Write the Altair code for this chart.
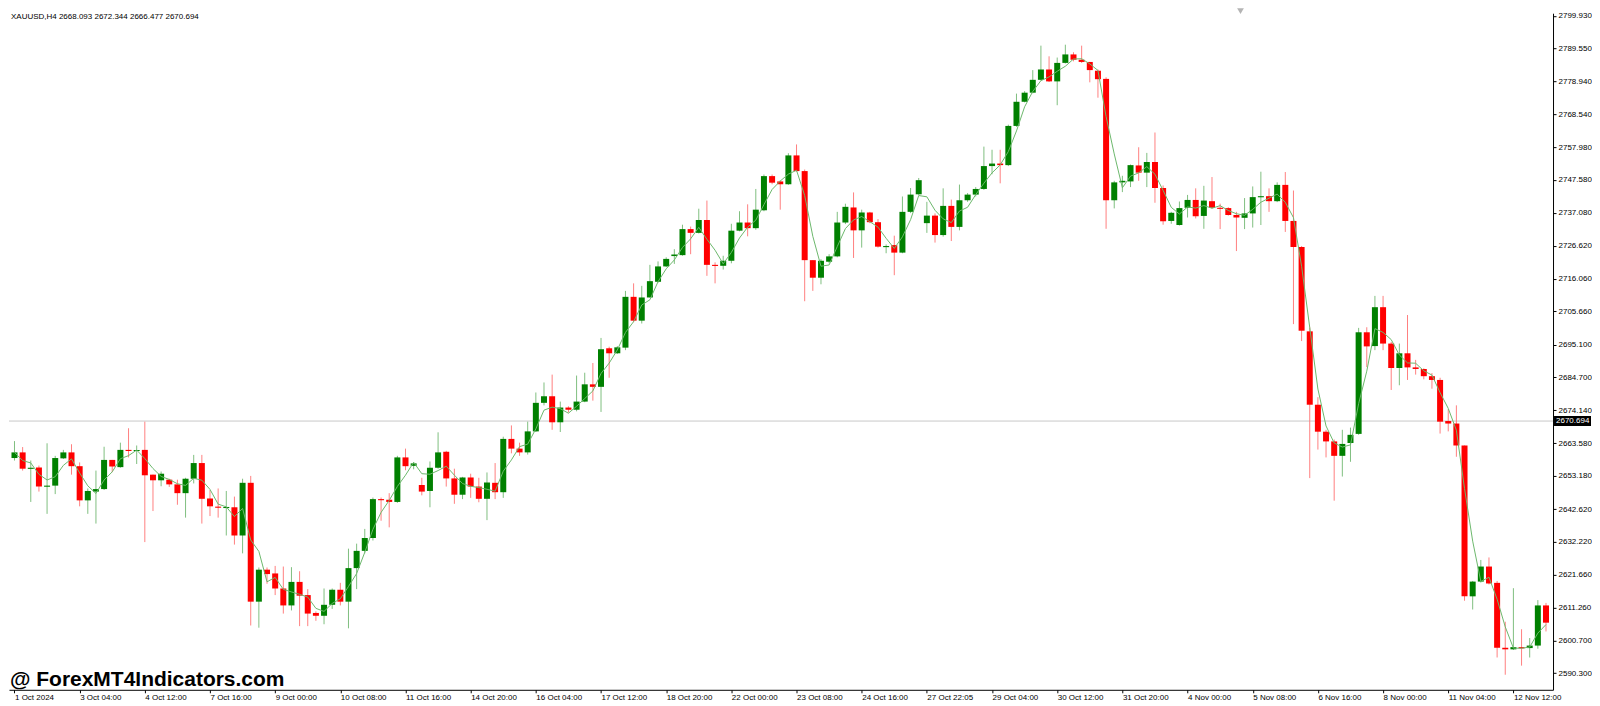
import json
import altair as alt
import pandas as pd

# ---------------- data (XAUUSD H4) ----------------
opens = [
    2658.9, 2660.7, 2655.5, 2655.9, 2650.0, 2650.1, 2658.8, 2660.7, 2656.3, 2645.4,
    2648.2, 2649.0, 2658.3, 2656.0, 2661.5, 2661.3, 2661.5, 2653.6, 2651.8, 2652.0,
    2650.5, 2647.7, 2652.3, 2657.3, 2646.0, 2643.4, 2643.0, 2643.2, 2634.2, 2651.0,
    2613.1, 2623.3, 2622.1, 2617.3, 2611.9, 2619.4, 2615.2, 2609.5, 2608.6, 2612.1,
    2616.9, 2613.1, 2623.8, 2629.3, 2633.4, 2645.8, 2645.6, 2644.9, 2659.1, 2656.4,
    2650.3, 2648.4, 2655.8, 2660.9, 2652.4, 2647.2, 2652.7, 2649.8, 2645.9, 2651.0,
    2648.0, 2665.0, 2661.9, 2660.7, 2667.4, 2676.5, 2678.6, 2670.3, 2675.0, 2674.3,
    2676.9, 2682.4, 2681.6, 2693.9, 2692.3, 2694.1, 2710.3, 2702.7, 2710.1, 2715.1,
    2720.0, 2723.3, 2723.6, 2731.9, 2730.7, 2734.8, 2720.5, 2720.2, 2721.8, 2731.4,
    2734.0, 2732.2, 2737.9, 2748.8, 2747.1, 2746.2, 2755.4, 2750.4, 2722.0, 2716.4,
    2721.5, 2723.2, 2734.0, 2738.8, 2731.5, 2737.2, 2734.1, 2726.2, 2726.8, 2724.4,
    2737.4, 2743.0, 2733.8, 2736.2, 2730.0, 2739.3, 2732.6, 2741.1, 2742.9, 2744.7,
    2752.0, 2752.8, 2752.3, 2764.8, 2772.5, 2775.4, 2779.5, 2782.8, 2779.0, 2784.9,
    2787.6, 2785.9, 2785.2, 2782.4, 2779.8, 2741.1, 2746.8, 2747.1, 2752.2, 2749.9,
    2753.3, 2745.0, 2734.5, 2733.2, 2738.7, 2741.2, 2736.1, 2740.8, 2738.7, 2738.6,
    2736.4, 2735.5, 2736.9, 2742.1, 2742.4, 2740.8, 2746.0, 2734.5, 2726.2, 2699.3,
    2675.9, 2667.3, 2664.2, 2659.6, 2663.7, 2666.6, 2699.0, 2694.6, 2707.0, 2695.4,
    2687.6, 2692.3, 2687.8, 2687.3, 2685.0, 2683.8, 2670.7, 2669.9, 2662.9, 2614.8,
    2619.5, 2624.3, 2619.1, 2598.4, 2597.9, 2598.6, 2598.3, 2599.1, 2611.9,
]
highs = [
    2664.3, 2662.4, 2658.1, 2656.5, 2663.6, 2659.6, 2661.5, 2663.3, 2657.5, 2649.2,
    2654.9, 2662.5, 2658.3, 2663.8, 2668.4, 2662.9, 2670.5, 2653.6, 2654.6, 2652.3,
    2652.0, 2652.6, 2659.9, 2659.9, 2648.7, 2649.2, 2648.4, 2646.6, 2652.3, 2653.2,
    2624.0, 2624.0, 2624.5, 2624.3, 2624.1, 2622.8, 2617.1, 2610.0, 2617.3, 2617.3,
    2619.1, 2630.0, 2631.6, 2636.3, 2646.3, 2646.3, 2647.7, 2659.6, 2661.9, 2657.6,
    2652.6, 2657.8, 2667.1, 2661.2, 2655.5, 2652.9, 2653.9, 2652.6, 2654.3, 2657.3,
    2665.7, 2669.3, 2663.8, 2670.5, 2679.8, 2683.0, 2685.5, 2676.9, 2675.4, 2685.2,
    2686.1, 2689.2, 2697.2, 2694.4, 2694.6, 2712.2, 2714.6, 2713.8, 2720.5, 2721.6,
    2722.9, 2725.5, 2733.3, 2732.7, 2738.4, 2741.0, 2721.3, 2723.4, 2733.6, 2737.6,
    2739.8, 2744.7, 2749.3, 2749.3, 2747.5, 2756.1, 2758.9, 2750.9, 2722.0, 2722.3,
    2723.9, 2737.4, 2740.0, 2743.6, 2738.1, 2737.4, 2735.1, 2727.0, 2729.8, 2742.3,
    2745.0, 2748.2, 2740.6, 2736.9, 2744.9, 2741.3, 2746.1, 2743.4, 2745.3, 2758.2,
    2757.2, 2757.2, 2765.2, 2775.1, 2775.9, 2782.6, 2790.4, 2787.0, 2786.6, 2790.7,
    2788.3, 2790.4, 2785.2, 2782.8, 2780.3, 2747.3, 2748.9, 2752.5, 2758.0, 2756.2,
    2762.7, 2745.8, 2737.4, 2740.7, 2742.8, 2744.9, 2745.7, 2748.5, 2740.0, 2738.9,
    2737.4, 2741.8, 2745.5, 2750.2, 2744.9, 2746.8, 2750.1, 2744.2, 2726.5, 2700.6,
    2678.3, 2667.9, 2664.8, 2667.9, 2668.6, 2700.4, 2700.6, 2710.6, 2710.6, 2695.9,
    2695.4, 2704.5, 2690.2, 2687.5, 2686.0, 2684.5, 2674.5, 2675.7, 2662.9, 2619.7,
    2626.4, 2627.2, 2619.7, 2606.7, 2617.4, 2604.3, 2601.5, 2613.6, 2612.7,
]
lows = [
    2658.1, 2654.9, 2644.9, 2648.2, 2641.1, 2647.4, 2658.6, 2653.6, 2643.5, 2641.1,
    2638.0, 2648.7, 2654.4, 2655.8, 2659.1, 2657.0, 2632.1, 2642.0, 2649.9, 2649.7,
    2644.0, 2639.9, 2650.8, 2638.0, 2640.4, 2639.9, 2634.2, 2631.3, 2628.5, 2605.5,
    2604.8, 2618.8, 2615.2, 2609.3, 2610.3, 2605.3, 2605.3, 2607.0, 2605.9, 2610.8,
    2611.9, 2604.6, 2617.1, 2628.5, 2632.6, 2638.9, 2636.8, 2644.6, 2655.0, 2655.3,
    2647.0, 2643.2, 2655.5, 2649.8, 2644.3, 2645.8, 2646.2, 2644.8, 2639.1, 2645.8,
    2646.2, 2660.4, 2659.6, 2660.0, 2667.2, 2675.7, 2667.9, 2667.2, 2673.4, 2673.8,
    2676.7, 2677.2, 2673.6, 2684.5, 2692.1, 2693.3, 2702.2, 2701.8, 2710.1, 2714.8,
    2719.8, 2720.8, 2723.4, 2723.9, 2730.5, 2717.0, 2714.6, 2719.0, 2721.0, 2731.2,
    2729.6, 2731.7, 2737.6, 2746.2, 2738.1, 2746.0, 2750.2, 2708.9, 2712.2, 2714.3,
    2721.0, 2722.9, 2733.5, 2722.7, 2726.0, 2733.8, 2726.0, 2724.2, 2717.2, 2724.2,
    2737.0, 2742.7, 2730.7, 2727.6, 2729.5, 2728.1, 2731.5, 2740.6, 2742.3, 2744.4,
    2749.4, 2746.5, 2752.0, 2764.5, 2772.3, 2775.2, 2779.2, 2778.8, 2771.4, 2784.7,
    2785.4, 2784.9, 2778.7, 2773.8, 2732.0, 2738.5, 2743.7, 2745.3, 2747.3, 2745.3,
    2740.3, 2733.3, 2733.6, 2733.0, 2735.6, 2735.3, 2732.0, 2738.4, 2731.9, 2736.2,
    2724.9, 2731.9, 2732.4, 2733.2, 2737.4, 2740.5, 2731.0, 2701.6, 2696.2, 2652.5,
    2661.6, 2659.1, 2645.3, 2653.0, 2657.7, 2666.3, 2687.9, 2693.3, 2693.3, 2680.6,
    2682.1, 2683.8, 2685.5, 2684.0, 2681.0, 2666.7, 2667.4, 2659.3, 2613.4, 2610.6,
    2619.2, 2618.6, 2595.3, 2589.8, 2597.7, 2592.7, 2595.3, 2598.1, 2603.6,
]
closes = [
    2660.7, 2655.5, 2655.8, 2649.8, 2650.1, 2658.9, 2660.7, 2656.3, 2645.4, 2648.4,
    2649.0, 2658.3, 2656.2, 2661.5, 2661.3, 2661.5, 2653.4, 2651.8, 2653.9, 2650.5,
    2647.7, 2652.3, 2657.3, 2645.9, 2643.5, 2643.2, 2643.3, 2634.2, 2651.0, 2613.1,
    2623.3, 2621.9, 2617.3, 2611.9, 2619.4, 2615.0, 2609.3, 2608.6, 2612.1, 2616.9,
    2613.1, 2623.8, 2629.3, 2633.4, 2645.8, 2645.5, 2644.9, 2659.1, 2656.3, 2657.2,
    2648.2, 2655.8, 2660.7, 2652.4, 2647.2, 2652.7, 2649.8, 2645.9, 2651.1, 2648.0,
    2665.0, 2661.9, 2660.7, 2667.4, 2676.5, 2678.6, 2670.3, 2675.0, 2674.3, 2676.9,
    2682.4, 2681.6, 2693.6, 2692.3, 2694.2, 2710.3, 2702.7, 2710.1, 2715.3, 2720.0,
    2722.4, 2723.8, 2731.9, 2730.7, 2734.8, 2720.5, 2720.2, 2721.8, 2731.4, 2734.0,
    2732.2, 2738.1, 2748.8, 2746.7, 2746.2, 2755.4, 2750.4, 2722.0, 2716.4, 2721.8,
    2723.2, 2734.0, 2739.0, 2731.5, 2737.2, 2734.1, 2726.3, 2726.5, 2724.4, 2737.4,
    2742.9, 2747.5, 2736.2, 2730.0, 2739.3, 2732.6, 2741.1, 2742.9, 2744.7, 2752.0,
    2752.8, 2752.3, 2764.8, 2772.5, 2775.4, 2779.5, 2782.8, 2779.0, 2784.9, 2787.6,
    2785.9, 2785.2, 2782.6, 2779.7, 2741.1, 2746.8, 2747.3, 2752.3, 2749.9, 2753.3,
    2745.0, 2734.4, 2737.1, 2738.6, 2741.2, 2736.0, 2741.0, 2738.7, 2738.4, 2736.4,
    2735.6, 2736.9, 2742.1, 2742.4, 2740.8, 2746.0, 2734.5, 2726.2, 2699.5, 2675.9,
    2667.3, 2664.2, 2659.6, 2663.4, 2666.3, 2699.0, 2694.5, 2707.0, 2695.4, 2687.6,
    2692.3, 2687.8, 2687.3, 2685.0, 2683.8, 2670.5, 2669.9, 2662.9, 2614.8, 2619.5,
    2624.3, 2618.9, 2598.4, 2597.9, 2598.6, 2598.2, 2599.1, 2611.9, 2606.4,
]

x_labels = [
    "1 Oct 2024", "3 Oct 04:00", "4 Oct 12:00", "7 Oct 16:00", "9 Oct 00:00",
    "10 Oct 08:00", "11 Oct 16:00", "14 Oct 20:00", "16 Oct 04:00", "17 Oct 12:00",
    "18 Oct 20:00", "22 Oct 00:00", "23 Oct 08:00", "24 Oct 16:00", "27 Oct 22:05",
    "29 Oct 04:00", "30 Oct 12:00", "31 Oct 20:00", "4 Nov 00:00", "5 Nov 08:00",
    "6 Nov 16:00", "8 Nov 00:00", "11 Nov 04:00", "12 Nov 12:00",
]
x_label_bars = [8 * k for k in range(len(x_labels))]

y_ticks = [
    2799.930, 2789.550, 2778.940, 2768.540, 2757.980, 2747.580, 2737.080,
    2726.620, 2716.060, 2705.660, 2695.100, 2684.700, 2674.140, 2663.580,
    2653.180, 2642.620, 2632.220, 2621.660, 2611.260, 2600.700, 2590.300,
]

title_text = "XAUUSD,H4  2668.093 2672.344 2666.477 2670.694"
last_price = 2670.694
watermark = "@ ForexMT4Indicators.com"

# ---------------- chart ----------------
W, H = 1545, 677
FONT = "Liberation Sans"
GREEN, RED = "#008000", "#ff0000"

df = pd.DataFrame({
    "i": list(range(len(closes))),
    "o": opens, "h": highs, "l": lows, "c": closes,
})

label_expr = json.dumps(x_labels) + "[round(datum.value / 8)]"

x_enc = alt.X(
    "i:Q",
    scale=alt.Scale(domain=[-0.06, 188.25], nice=False, zero=False),
    axis=alt.Axis(
        values=x_label_bars, labelExpr=label_expr, title=None, grid=False,
        orient="bottom", labelAlign="left", labelPadding=1, tickSize=3,
        labelFont=FONT, labelFontSize=8, labelColor="black",
        domainColor="black", tickColor="black", labelOverlap=False,
        labelFlush=False, labelBound=False,
    ),
)
y_scale = alt.Scale(domain=[2585.0, 2800.74], nice=False, zero=False)
y_axis = alt.Axis(
    values=y_ticks, format=".3f", title=None, grid=False, orient="right",
    tickSize=3, labelPadding=2, labelFont=FONT, labelFontSize=8,
    labelColor="black", domainColor="black", tickColor="black",
    labelOverlap=False, labelFlush=False, labelBound=False,
)

base = alt.Chart(df).encode(x=x_enc)
up = "datum.c >= datum.o"

wicks = base.mark_rule(strokeWidth=1).encode(
    y=alt.Y("l:Q", scale=y_scale, axis=y_axis),
    y2="h:Q",
    color=alt.condition(up, alt.value("#7fbf7f"), alt.value("#ff8080")),
)

bodies = base.transform_calculate(
    top="max(datum.o, datum.c)",
    bot0="min(datum.o, datum.c)",
).transform_calculate(
    bot="datum.top - datum.bot0 < 0.35 ? datum.top - 0.35 : datum.bot0"
).mark_bar(size=6).encode(
    y=alt.Y("top:Q", scale=y_scale, axis=y_axis),
    y2="bot:Q",
    color=alt.condition(up, alt.value(GREEN), alt.value(RED)),
)

ma = base.transform_window(
    ma="mean(c)", frame=[-2, 0], sort=[alt.SortField("i")]
).mark_line(color="#6cb86c", strokeWidth=1).encode(
    y=alt.Y("ma:Q", scale=y_scale, axis=y_axis)
)

price_df = pd.DataFrame({"p": [last_price]})
price_line = alt.Chart(price_df).mark_rule(color="#c8c8c8", strokeWidth=1).encode(
    y=alt.Y("p:Q", scale=y_scale, axis=y_axis)
)
price_box = alt.Chart(price_df).mark_rect(color="black", clip=False).encode(
    x=alt.value(W + 1), x2=alt.value(W + 38),
    y=alt.datum(last_price + 1.6, scale=y_scale, axis=y_axis),
    y2=alt.datum(last_price - 1.6),
)
price_text = alt.Chart(price_df).mark_text(
    align="left", baseline="middle", color="white", font=FONT, fontSize=8, clip=False
).encode(
    x=alt.value(W + 3), y=alt.datum(last_price, scale=y_scale, axis=y_axis),
    text=alt.value(f"{last_price:.3f}"),
)

title_mark = alt.Chart(price_df).mark_text(
    align="left", baseline="middle", color="black", font=FONT, fontSize=8
).encode(x=alt.value(2), y=alt.value(4), text=alt.value(title_text))

wm_mark = alt.Chart(price_df).mark_text(
    align="left", baseline="middle", color="black", font=FONT, fontSize=21,
    fontWeight="bold",
).encode(x=alt.value(1), y=alt.value(667), text=alt.value(watermark))

marker = alt.Chart(price_df).mark_point(
    shape="triangle-down", filled=True, color="#b4b4b4", size=45, opacity=1
).encode(x=alt.datum(150.5), y=alt.value(-2))

chart = alt.layer(
    price_line, wicks, bodies, ma, price_box, price_text, title_mark, wm_mark, marker
).properties(
    width=W, height=H, padding=0, background="white"
).configure_view(stroke=None).configure_axis(labelOverlap=False)

chart.save("out.html", embed_options={"renderer": "svg", "actions": False})
